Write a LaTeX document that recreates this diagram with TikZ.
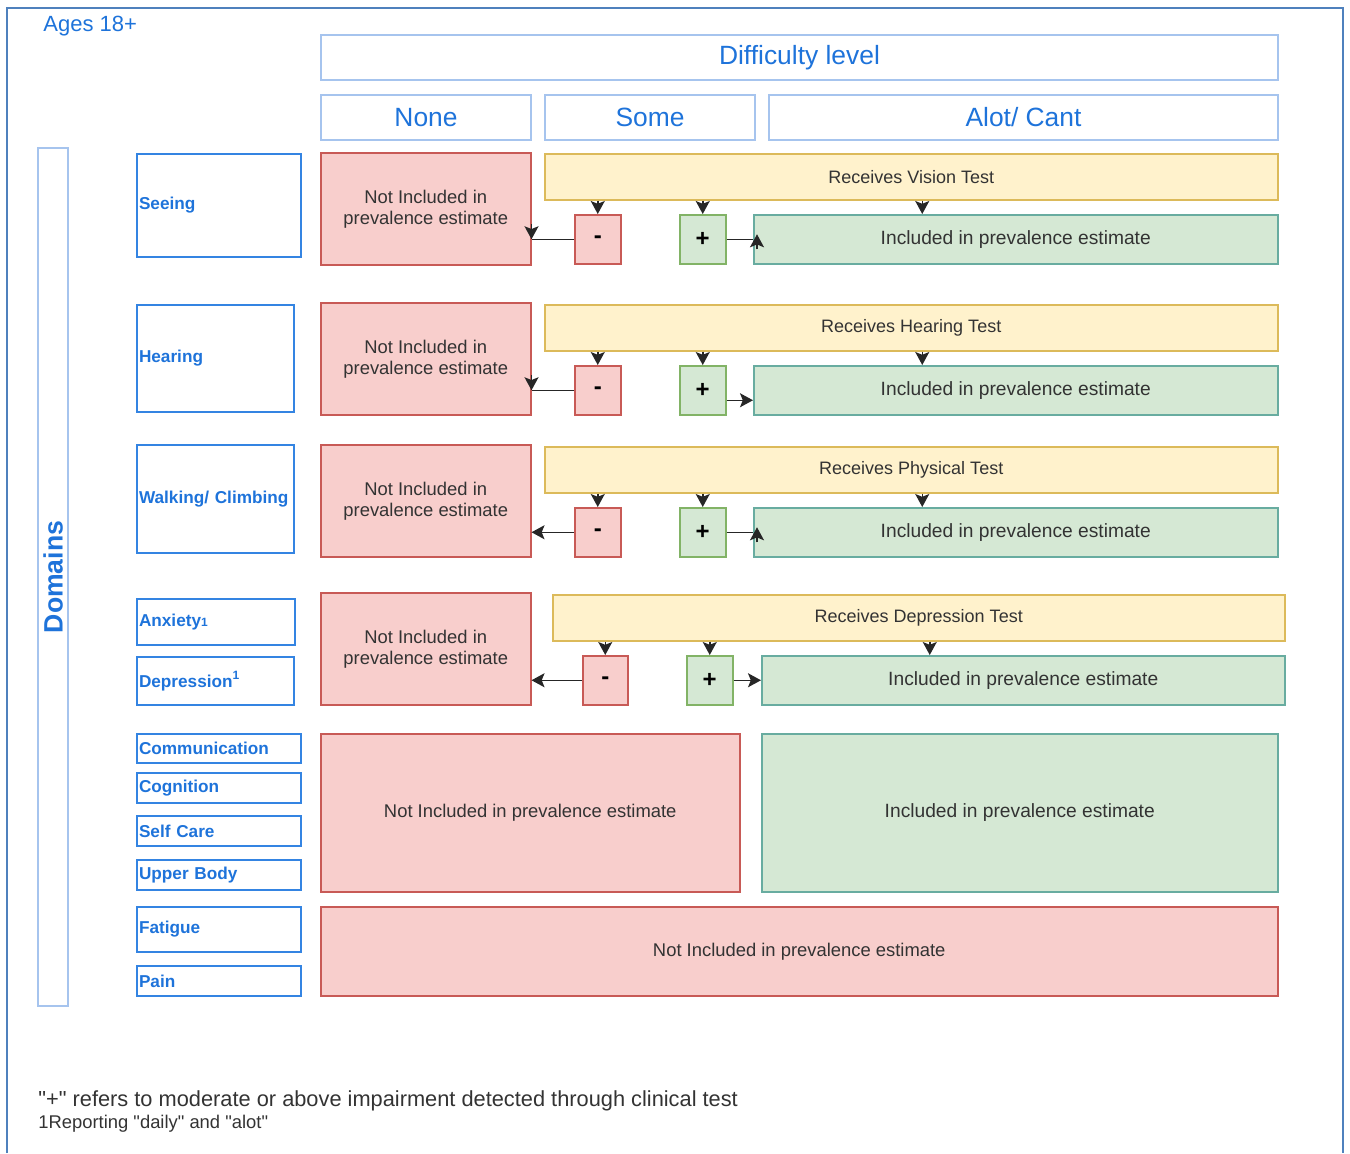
\documentclass[tikz,border=0pt]{standalone}
\usepackage{fontspec}
\setmainfont{Liberation Sans}
\usetikzlibrary{arrows.meta,calc}
\definecolor{hdrline}{RGB}{166,196,238}
\definecolor{txtblue}{RGB}{30,115,218}
\definecolor{domline}{RGB}{52,132,226}
\definecolor{frameblue}{RGB}{79,129,189}
\definecolor{nofill}{RGB}{248,206,204}
\definecolor{noline}{RGB}{200,90,86}
\definecolor{testfill}{RGB}{255,242,204}
\definecolor{testline}{RGB}{220,186,90}
\definecolor{yesfill}{RGB}{213,232,212}
\definecolor{yesline}{RGB}{130,179,102}
\definecolor{incline}{RGB}{104,172,160}
\definecolor{boxtext}{RGB}{51,51,51}
\tikzset{
  wh/.style 2 args={minimum width=#1pt,minimum height=#2pt},
  cell/.style={rectangle,anchor=north west,inner sep=0pt,align=center},
  hdr/.style={cell,draw=hdrline,line width=1pt,text=txtblue,
    font=\fontsize{13.2}{15}\selectfont},
  dom/.style={cell,draw=domline,line width=1pt,text=txtblue,align=left,
    inner xsep=1pt,font=\fontsize{8.6}{10}\selectfont\bfseries},
  % outcome boxes: red = not included, yellow = clinical test, green = included
  notinc/.style={cell,fill=nofill,draw=noline,line width=0.75pt,text=boxtext,
    font=\fontsize{9.2}{10.5}\selectfont},
  testbox/.style={cell,fill=testfill,draw=testline,line width=0.75pt,text=boxtext,
    font=\fontsize{9}{10.5}\selectfont},
  incbox/.style={cell,fill=yesfill,draw=incline,line width=0.75pt,text=boxtext,
    font=\fontsize{9.6}{11}\selectfont},
  negbox/.style={cell,fill=nofill,draw=noline,line width=0.75pt,wh={23}{24.5},
    font=\fontsize{12}{12}\selectfont\bfseries},
  posbox/.style={cell,fill=yesfill,draw=yesline,line width=0.75pt,wh={23}{24.5},
    font=\fontsize{12}{12}\selectfont\bfseries},
  arr/.style={-{Stealth[length=6.5pt,width=7pt,inset=1.4pt]},line width=0.75pt,black!85},
  notetext/.style={anchor=west,inner sep=0pt,text=boxtext}
}

\begin{document}
\begin{tikzpicture}[x=0.5pt,y=-0.5pt]
  \useasboundingbox (0,0) rectangle (1350,1153);
  \draw[frameblue,line width=1pt] (7,1153) -- (7,8) -- (1343,8) -- (1343,1153);
  \node[anchor=west,inner sep=0pt,text=txtblue,font=\fontsize{11}{13}\selectfont] (ages) at (43,26) {Ages 18+};

  % difficulty levels
  \node[hdr,wh={478.5}{22.5}] (diff) at (320,34) {Difficulty level};
  \node[hdr,wh={105}{22.5}] (none) at (320,94) {None};
  \node[hdr,wh={105}{22.5}] (some) at (544,94) {Some};
  \node[hdr,wh={254.5}{22.5}] (alot) at (768,94) {Alot/ Cant};

  % domains
  \node[draw=hdrline,line width=1pt,rotate=90,wh={429}{15},inner sep=0pt,text=txtblue,
    font=\fontsize{13.3}{14}\selectfont\bfseries] (domains) at (53,577) {Domains};
  \node[dom,text width=80pt,minimum height=51.5pt] (seeing) at (136,153) {Seeing};
  \node[dom,text width=76.5pt,minimum height=53.5pt] (hearing) at (136,304) {Hearing};
  \node[dom,text width=76.5pt,minimum height=54pt] (walking) at (136,444) {Walking/ Climbing};
  \node[dom,text width=77pt,minimum height=23pt] (anxiety) at (136,598) {Anxiety{\fontsize{6}{6}\selectfont 1}};
  \node[dom,text width=76.5pt,minimum height=24pt] (depress) at (136,656) {Depression\textsuperscript{1}};
  \node[dom,text width=80pt,minimum height=14.5pt] (comm) at (136,733) {Communication};
  \node[dom,text width=80pt,minimum height=15pt] (cogn) at (136,772) {Cognition};
  \node[dom,text width=80pt,minimum height=15pt] (selfcare) at (136,815) {Self Care};
  \node[dom,text width=80pt,minimum height=15pt] (upper) at (136,859) {Upper Body};
  \node[dom,text width=80pt,minimum height=22.5pt] (fatigue) at (136,906) {Fatigue};
  \node[dom,text width=80pt,minimum height=15pt] (pain) at (136,965) {Pain};

  % seeing
  \node[notinc,wh={105}{56}] (no1) at (320,152) {Not Included in\\prevalence estimate};
  \node[testbox,wh={366.5}{23}] (test1) at (544,153) {Receives Vision Test};
  \node[negbox] (neg1) at (574,214) {-};
  \node[posbox] (pos1) at (679,214) {+};
  \node[incbox,wh={262}{24.5}] (inc1) at (753,214) {Included in prevalence estimate};

  % hearing
  \node[notinc,wh={105}{56}] (no2) at (320,302) {Not Included in\\prevalence estimate};
  \node[testbox,wh={366.5}{23}] (test2) at (544,304) {Receives Hearing Test};
  \node[negbox] (neg2) at (574,365) {-};
  \node[posbox] (pos2) at (679,365) {+};
  \node[incbox,wh={262}{24.5}] (inc2) at (753,365) {Included in prevalence estimate};

  % walking
  \node[notinc,wh={105}{56}] (no3) at (320,444) {Not Included in\\prevalence estimate};
  \node[testbox,wh={366.5}{23}] (test3) at (544,446) {Receives Physical Test};
  \node[negbox] (neg3) at (574,507) {-};
  \node[posbox] (pos3) at (679,507) {+};
  \node[incbox,wh={262}{24.5}] (inc3) at (753,507) {Included in prevalence estimate};

  % anxiety / depression
  \node[notinc,wh={105}{56}] (no4) at (320,592) {Not Included in\\prevalence estimate};
  \node[testbox,wh={366}{23}] (test4) at (552,594) {Receives Depression Test};
  \node[negbox,minimum width=22.5pt] (neg4) at (582,655) {-};
  \node[posbox] (pos4) at (686,655) {+};
  \node[incbox,wh={261.5}{24.5}] (inc4) at (761,655) {Included in prevalence estimate};

  % remaining domains
  \node[notinc,wh={209.5}{79}] (no5) at (320,733) {Not Included in prevalence estimate};
  \node[incbox,wh={258}{79}] (inc5) at (761,733) {Included in prevalence estimate};
  \node[notinc,wh={478.5}{44.5}] (no6) at (320,906) {Not Included in prevalence estimate};

  % test outcomes
  \foreach \r in {1,2,3,4} {
    \coordinate (d\r) at ($(test\r.south)+(11,0)$);
    \draw[arr] (test\r.south -| neg\r.north) -- (neg\r.north);
    \draw[arr] (test\r.south -| pos\r.north) -- (pos\r.north);
    \draw[arr] (d\r) -- (d\r |- inc\r.north);
  }
  \draw[arr] (neg1.west) -- (neg1.west -| no1.east) ++(0,-15) -- ++(0,15);
  \draw[arr] (pos1.east) -- (pos1.east -| inc1.west) ++(4,10) -- ++(0,-15);
  \draw[arr] (neg2.west) -- (neg2.west -| no2.east) ++(0,-15) -- ++(0,15);
  \draw[arr] ([yshift=-5pt]pos2.east) -- ([yshift=-5pt]inc2.west);
  \draw[arr] (neg3.west) -- (neg3.west -| no3.east);
  \draw[arr] (pos3.east) -- (pos3.east -| inc3.west) ++(4,10) -- ++(0,-15);
  \draw[arr] (neg4.west) -- (neg4.west -| no4.east);
  \draw[arr] (pos4.east) -- (inc4.west);

  \node[notetext,font=\fontsize{10.9}{12}\selectfont] (plusnote) at (38,1101) {\textquotedbl+\textquotedbl{} refers to moderate or above impairment detected through clinical test};
  \node[notetext,font=\fontsize{9.2}{11}\selectfont] (dailynote) at (38,1124) {1Reporting \textquotedbl daily\textquotedbl{} and \textquotedbl alot\textquotedbl};
\end{tikzpicture}
\end{document}
